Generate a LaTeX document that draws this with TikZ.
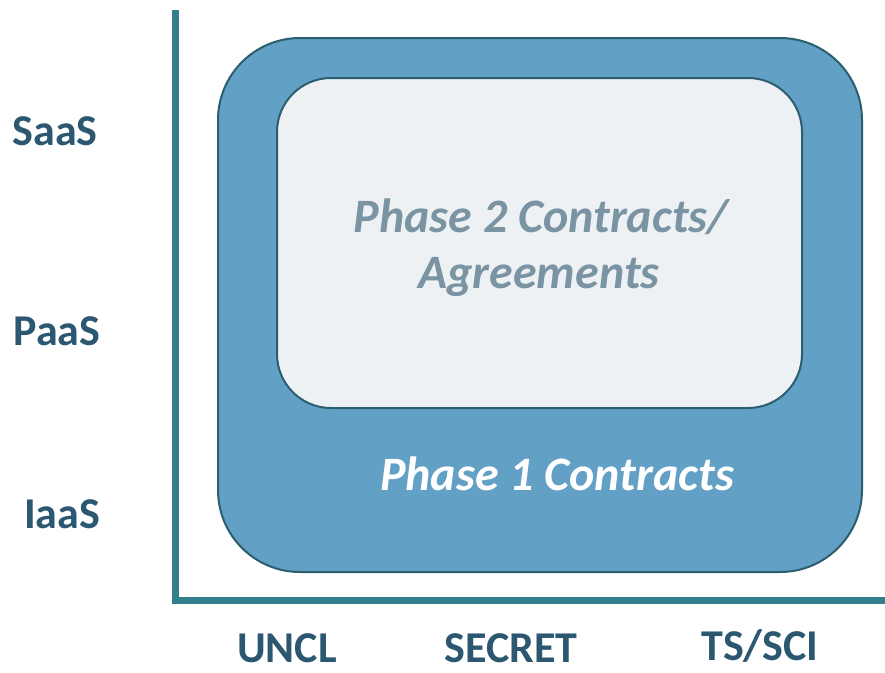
\documentclass[tikz,border=0pt]{standalone}
\usepackage{fontspec}
\setmainfont{Carlito}
\definecolor{axisc}{HTML}{347F8E}
\definecolor{outerf}{HTML}{62A0C6}
\definecolor{edgec}{HTML}{2B5F6F}
\definecolor{innerf}{HTML}{EEF1F4}
\definecolor{labc}{HTML}{2B5870}
\definecolor{ph2c}{HTML}{7A94A3}
\tikzset{
  ax/.style={draw=axisc, line width=7pt},
  lab/.style={text=labc, font=\fontsize{44}{48}\selectfont\bfseries, inner sep=0pt, anchor=base},
  ph/.style={font=\fontsize{48}{56}\selectfont\bfseries\itshape, inner sep=0pt, anchor=base}
}
\begin{document}
\begin{tikzpicture}[x=1pt,y=-1pt]
\useasboundingbox (0,0) rectangle (885,672);
\fill[white] (0,0) rectangle (885,672);
\coordinate (ytop) at (175,10);
\coordinate (orig) at (175,600);
\coordinate (xend) at (885,600);
\draw[ax] (ytop) -- (orig) -- (xend);
\draw[edgec, line width=2pt, fill=outerf, rounded corners=82pt] (218,38) rectangle (862,572);
\draw[edgec, line width=2pt, fill=innerf, rounded corners=54pt] (277,78) rectangle (802,408);
\node[ph, text=ph2c] (p2a) at (541,232) {Phase 2 Contracts/};
\node[ph, text=ph2c] (p2b) at (539,288) {Agreements};
\node[ph, text=white] (p1) at (557,490) {Phase 1 Contracts};
\node[lab] (saas) at (55,145) {SaaS};
\node[lab] (paas) at (57,345) {PaaS};
\node[lab] (iaas) at (62,528) {IaaS};
\node[lab] (uncl) at (287,662) {UNCL};
\node[lab] (secret) at (511,662) {SECRET};
\node[lab] (tssci) at (760,660) {TS/SCI};
\end{tikzpicture}
\end{document}
